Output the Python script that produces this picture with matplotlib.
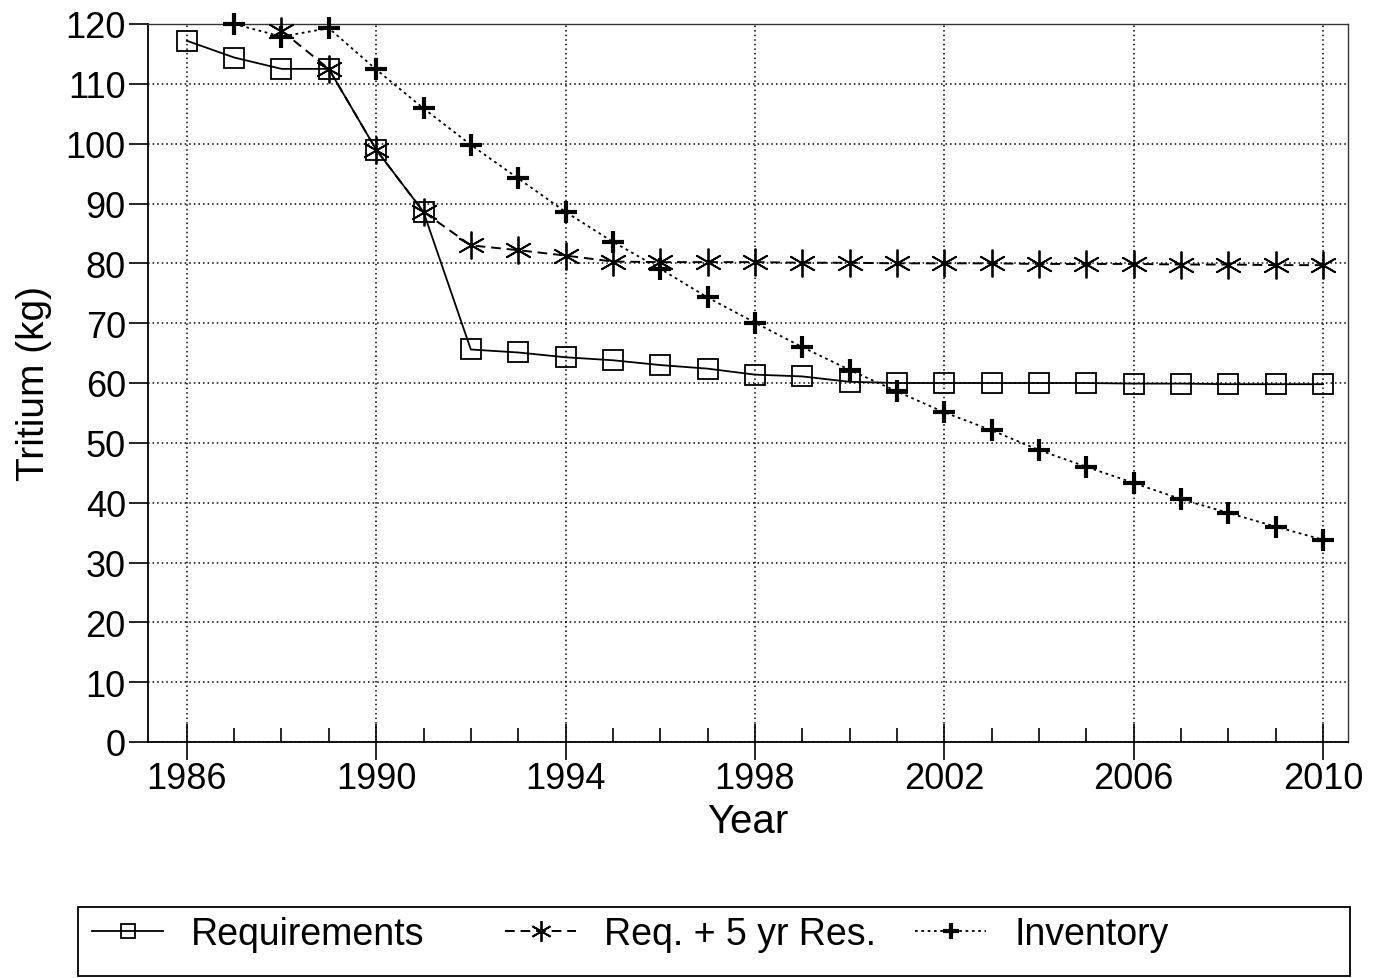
import matplotlib
matplotlib.use("Agg")
import matplotlib.pyplot as plt
from matplotlib.patches import Rectangle

plt.rcParams['font.family'] = ['Liberation Sans', 'DejaVu Sans']

years_req = list(range(1986, 2011))
requirements = [117.2, 114.4, 112.5, 112.5, 99.0, 88.6, 65.6, 65.1, 64.3, 63.8, 63.0,
                62.4, 61.4, 61.1, 60.2, 60.0, 60.0, 60.0, 60.0, 60.0, 59.9, 59.9,
                59.8, 59.8, 59.8]

years_res = list(range(1988, 2011))
req_reserve = [118.9, 112.5, 99.0, 88.6, 83.0, 82.2, 81.3, 80.3, 80.2, 80.2, 80.2,
               80.1, 80.1, 80.0, 80.0, 80.0, 79.9, 79.9, 79.9, 79.8, 79.8, 79.7, 79.7]

years_inv = list(range(1987, 2011))
inventory = [120.0, 117.9, 119.3, 112.4, 105.9, 99.8, 94.2, 88.6, 83.6, 79.1, 74.3,
             70.1, 66.0, 62.2, 58.6, 55.1, 52.1, 48.8, 46.0, 43.3, 40.6, 38.3,
             36.0, 33.8]

xticks = list(range(1986, 2011, 4))
yticks = list(range(0, 121, 10))

fig = plt.figure(figsize=(13.81, 9.79), dpi=100)
ax = fig.add_axes([148/1381, 1-743/979, (1348-148)/1381, (743-25)/979])

l1, = ax.plot(years_req, requirements, color='black', lw=1.3, ls='-', marker='s',
              ms=14, mfc='none', mec='black', mew=1.3, label='Requirements',
              zorder=3, clip_on=False)
l2, = ax.plot(years_res, req_reserve, color='black', lw=1.4, ls=(0, (5, 3)),
              marker=(6, 2, 0), ms=20, mec='black', mew=1.3,
              label='Req. + 5 yr Res.', zorder=3, clip_on=False)
l3, = ax.plot(years_inv, inventory, color='black', lw=1.3, ls=(0, (1.5, 2)),
              marker='+', ms=16, mec='black', mew=3, label='Inventory',
              zorder=3, clip_on=False)

ax.set_xlim(1985.18, 2010.53)
ax.set_ylim(0, 120)
ax.set_xticks(xticks)
ax.set_xticks(range(1986, 2011), minor=True)
ax.set_yticks(yticks)
ax.tick_params(axis='x', which='major', direction='inout', length=26, width=1.2,
               labelsize=26, pad=1)
ax.tick_params(axis='x', which='minor', direction='in', length=10, width=1.2)
ax.tick_params(axis='y', which='major', direction='out', length=14, width=1.2,
               labelsize=26, pad=2)
ax.grid(True, which='major', color='black', ls=(0, (1, 2)), lw=1.1)

for s in ['left', 'bottom']:
    ax.spines[s].set_linewidth(1.3)
for s in ['top', 'right']:
    ax.spines[s].set_linewidth(1.0)
    ax.spines[s].set_color('#333333')

ax.set_xlabel('Year', fontsize=29, labelpad=4)
ax.set_ylabel('Tritium (kg)', fontsize=28, labelpad=10)

# legend frame
fig.patches.append(Rectangle((78/1381, 2/979), 1272/1381, 904/979 - 2/979 + 71/979 - 904/979 + 0,
                             transform=fig.transFigure, fill=False,
                             edgecolor='black', lw=1.3))

entries = [(l1, 'Requirements', 92), (l2, 'Req. + 5 yr Res.', 505), (l3, 'Inventory', 915)]
for h, lab, xpx in entries:
    lg = fig.legend([h], [lab], loc='center left',
                    bbox_to_anchor=(xpx/1381, 1-935/979), fontsize=27,
                    frameon=False, handlelength=1.9, handletextpad=0.75,
                    numpoints=1, borderaxespad=0, borderpad=0, markerscale=0.75)

fig.savefig('out.png', dpi=100)
